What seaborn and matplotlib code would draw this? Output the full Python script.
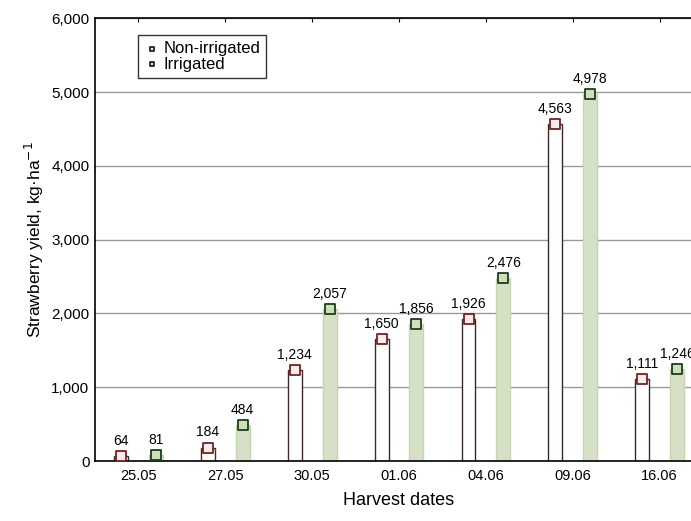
import numpy as np
import pandas as pd
import matplotlib
matplotlib.use("Agg")
import matplotlib.pyplot as plt
import seaborn as sns

# harvest dates and yields
dates = ["25.05", "27.05", "30.05", "01.06", "04.06", "09.06", "16.06"]
non_irrigated = [64, 184, 1234, 1650, 1926, 4563, 1111]
irrigated = [81, 484, 2057, 1856, 2476, 4978, 1246]

df = pd.DataFrame({
    "date": dates * 2,
    "yield": non_irrigated + irrigated,
    "variant": ["Non-irrigated"] * len(dates) + ["Irrigated"] * len(dates),
})

sns.set_style("white")
plt.rcParams['font.family'] = ['Liberation Sans', 'DejaVu Sans']
plt.rcParams['text.color'] = 'black'
plt.rcParams['axes.labelcolor'] = 'black'
plt.rcParams['xtick.color'] = 'black'
plt.rcParams['ytick.color'] = 'black'

fig = plt.figure(figsize=(6.91, 5.21), dpi=100)
ax = fig.add_axes([0.1375, 0.115, 0.88, 0.85])

bar_fill = {"Non-irrigated": "white", "Irrigated": "#d6e4c2"}
bar_edge = {"Non-irrigated": "#3a2a2a", "Irrigated": "#c5d6ae"}
sns.barplot(data=df, x="date", y="yield", hue="variant", order=dates,
            hue_order=["Non-irrigated", "Irrigated"], palette=bar_fill,
            gap=0.6, width=0.8, linewidth=1.0, legend=False, ax=ax, zorder=2)
# set bar edges per series
n = len(dates)
for i, p in enumerate(ax.patches[:2 * n]):
    p.set_edgecolor(bar_edge["Non-irrigated"] if i < n else bar_edge["Irrigated"])

x = np.arange(n)
ax.scatter(x - 0.2, non_irrigated, marker="s", s=50, facecolor="#f6ecec",
           edgecolor="#7a1f1f", linewidth=1.3, zorder=4, label="Non-irrigated")
ax.scatter(x + 0.2, irrigated, marker="s", s=50, facecolor="#cfe0b8",
           edgecolor="#1c3d1c", linewidth=1.3, zorder=4, label="Irrigated")

for xi, v in zip(x - 0.2, non_irrigated):
    ax.text(xi, v + 110, f"{v:,}", ha="center", va="bottom", fontsize=10)
for xi, v in zip(x + 0.2, irrigated):
    ax.text(xi, v + 110, f"{v:,}", ha="center", va="bottom", fontsize=10)

ax.set_ylim(0, 6000)
ax.set_xlim(-0.5, n - 0.5)
ax.set_yticks(range(0, 6001, 1000))
ax.set_yticklabels([f"{t:,}" for t in range(0, 6001, 1000)])
ax.yaxis.grid(True, color="#999999", linewidth=1.0, zorder=0)
ax.set_axisbelow(True)

for s in ["left", "bottom", "top"]:
    ax.spines[s].set_color("black")
    ax.spines[s].set_linewidth(1.2)
ax.spines["right"].set_visible(False)
ax.tick_params(axis="x", direction="in", length=3, top=True, labelsize=10.5, pad=6)
ax.tick_params(axis="y", length=0, labelsize=11, pad=4)

ax.set_xlabel("Harvest dates", fontsize=13, labelpad=6)
ax.set_ylabel("Strawberry yield, kg·ha$^{-1}$", fontsize=12.5)

leg = ax.legend(loc="upper left", bbox_to_anchor=(0.07, 0.962), frameon=True,
                fancybox=False, edgecolor="black", fontsize=12,
                handletextpad=0.2, borderpad=0.35, labelspacing=0.05,
                handlelength=1.0, markerscale=0.5, borderaxespad=0)
leg.get_frame().set_linewidth(1.0)
for h in leg.legend_handles:
    h.set_edgecolor("#222222")

fig.savefig("out.png", dpi=100)
